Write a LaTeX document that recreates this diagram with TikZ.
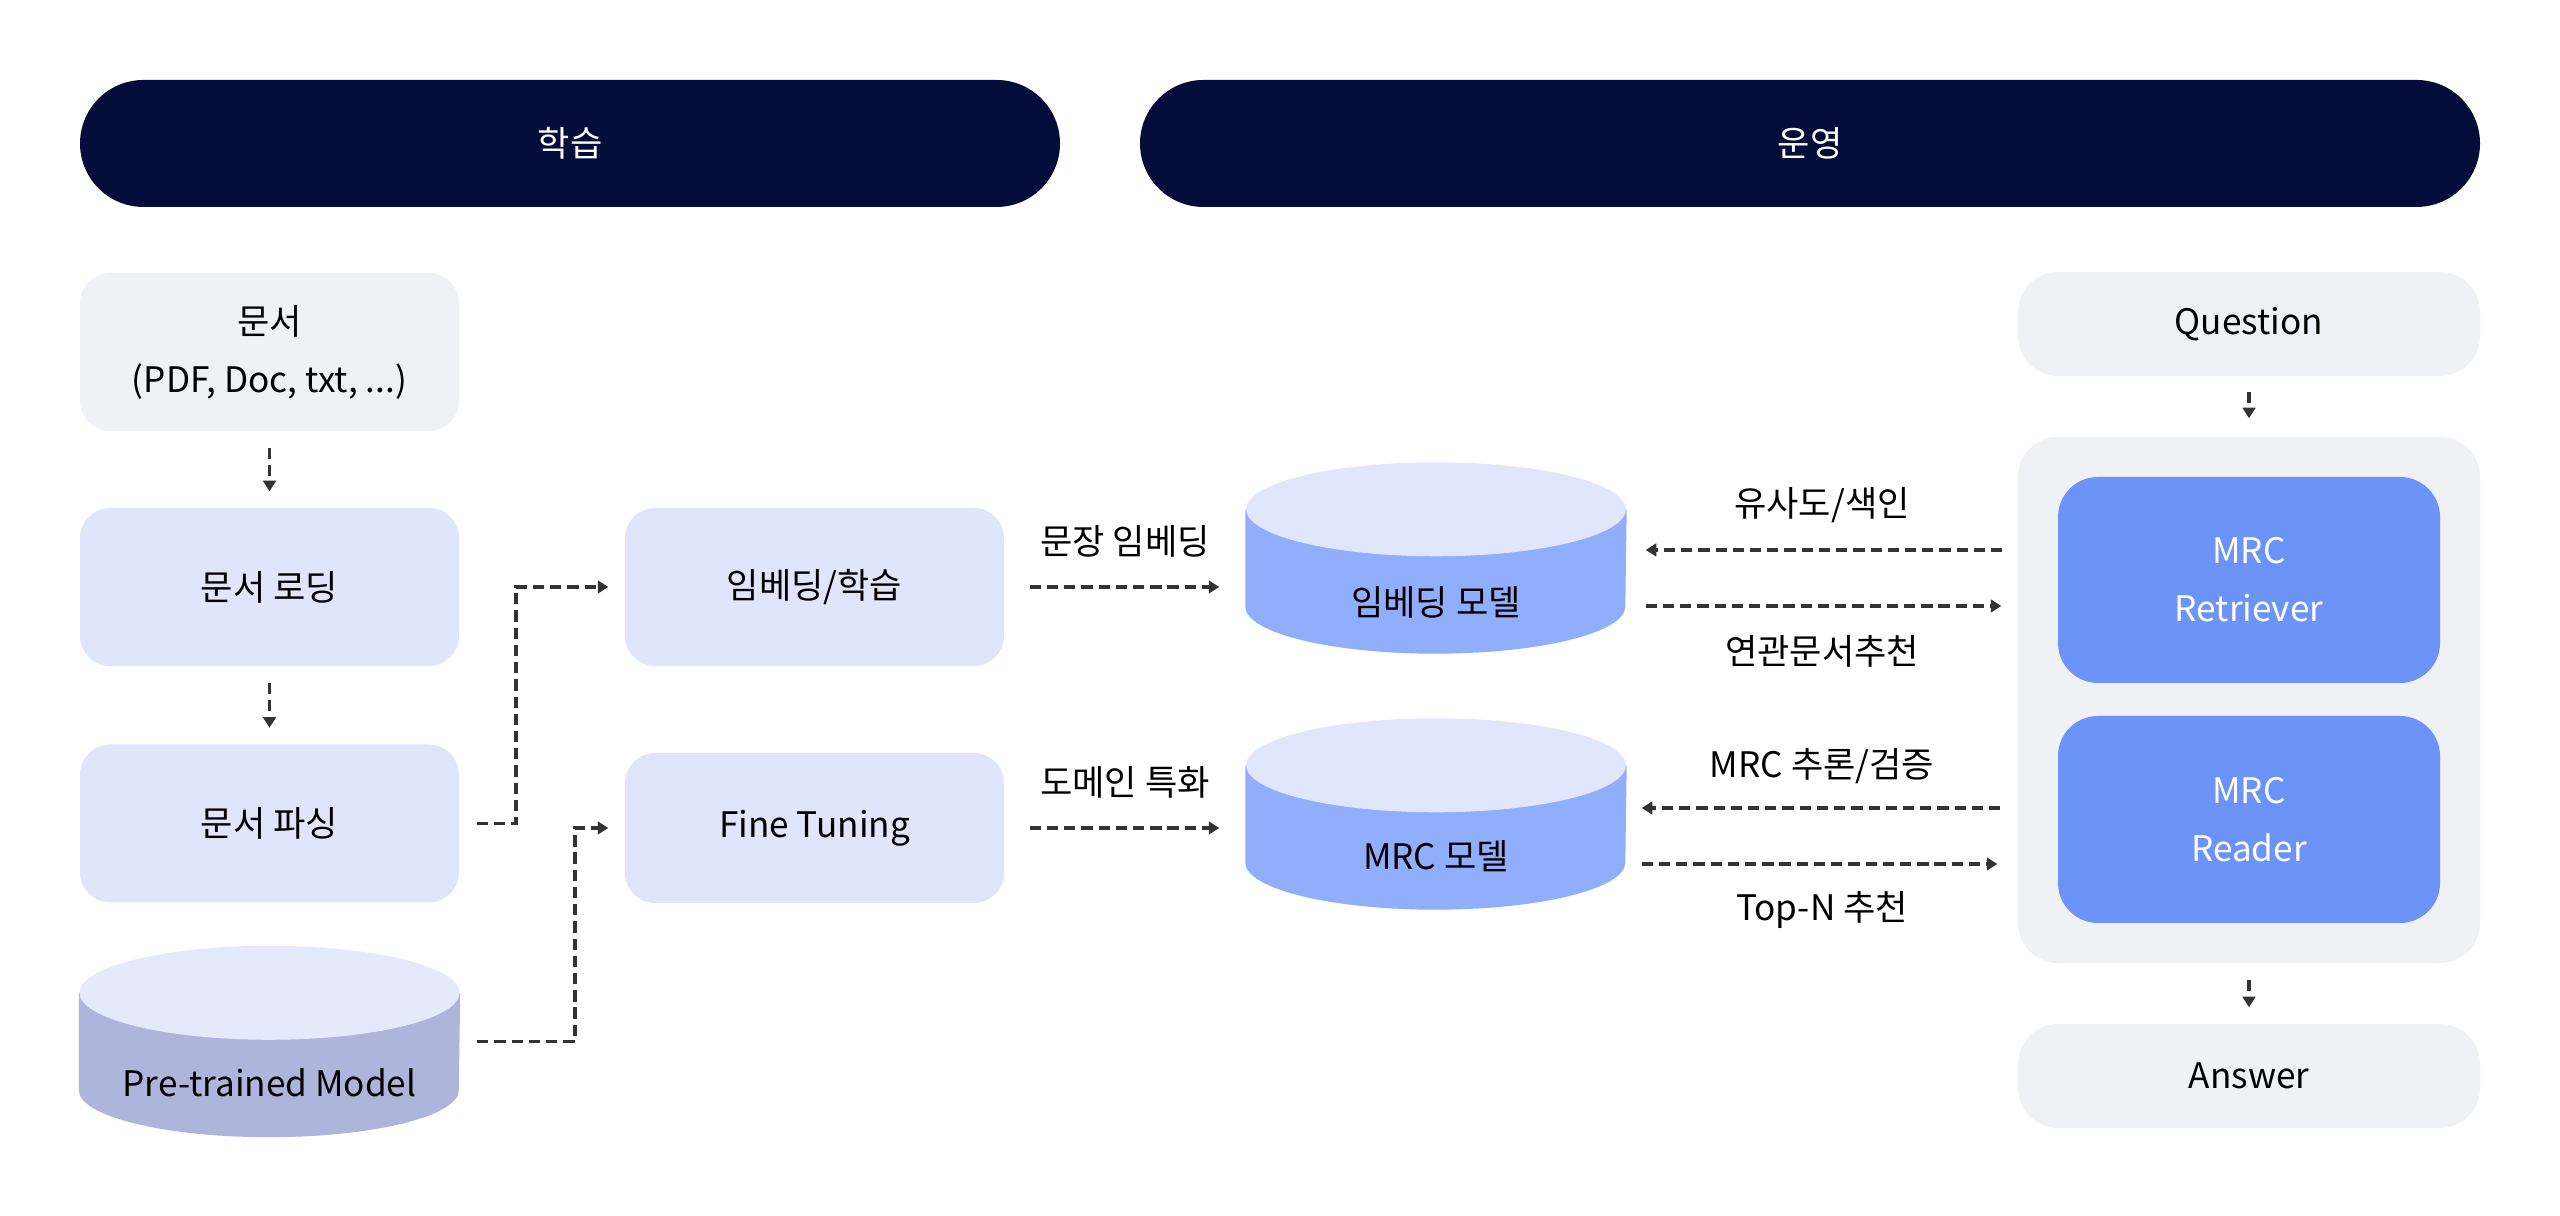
\documentclass[tikz,border=0pt]{standalone}
\usepackage{fontspec}
\setmainfont{Noto Sans CJK KR}
\usetikzlibrary{arrows.meta}

\definecolor{navy}{RGB}{4,13,58}
\definecolor{boxgray}{RGB}{240,241,245}
\definecolor{boxblue}{RGB}{223,230,252}
\definecolor{cyltop}{RGB}{224,231,253}
\definecolor{cylbody}{RGB}{145,174,252}
\definecolor{pretop}{RGB}{228,233,252}
\definecolor{prebody}{RGB}{173,181,218}
\definecolor{mrcblue}{RGB}{107,147,248}
\definecolor{arrowgray}{RGB}{51,51,51}

\begin{document}
\begin{tikzpicture}[
  font=\fontsize{10}{16.5}\selectfont,
  header/.style={fill=navy, text=white, rounded corners=6.35mm,
    minimum width=#1, minimum height=12.7mm, inner sep=0pt},
  stepbox/.style={fill=boxblue, rounded corners=3mm, align=center,
    minimum width=3.79cm, minimum height=1.58cm, inner sep=0pt},
  graybox/.style={stepbox, fill=boxgray},
  sidebox/.style={fill=boxgray, rounded corners=4mm, align=center,
    minimum width=4.62cm, minimum height=1.04cm, inner sep=0pt},
  mrcbox/.style={fill=mrcblue, text=white, rounded corners=4mm, align=center,
    minimum width=3.82cm, minimum height=2.06cm, inner sep=0pt},
  cylnode/.style={minimum width=3.8cm, minimum height=1.9cm, inner sep=0pt},
  flow/.style={draw=arrowgray, line width=0.9pt, dash pattern=on 3.2pt off 1.7pt,
    -{Triangle[length=3pt,width=3.6pt]}}
]
  \useasboundingbox (0,0) rectangle (25.6,12.16);

  % headers
  \node[header=9.8cm] (learn) at (5.70,10.725) {학습};
  \node[header=13.4cm] (ops) at (18.10,10.725) {운영};

  % training side
  \node[graybox] (doc) at (2.695,8.64) {문서\\(PDF, Doc, txt, ...)};
  \node[stepbox] (load) at (2.695,6.29) {문서 로딩};
  \node[stepbox] (parse) at (2.695,3.925) {문서 파싱};
  \node[cylnode] (pretrained) at (2.695,1.745) {};
  \node[stepbox] (embtrain) at (8.145,6.29) {임베딩/학습};
  \node[stepbox, minimum height=1.5cm] (finetune) at (8.145,3.88) {Fine Tuning};

  % models
  \node[cylnode] (embmodel) at (14.36,6.58) {};
  \node[cylnode] (mrcmodel) at (14.36,4.02) {};
  \foreach \cyl/\ctop/\cbody in {embmodel/cyltop/cylbody, mrcmodel/cyltop/cylbody,
      pretrained/pretop/prebody}{
    \fill[\cbody] ([yshift=-4.7mm]\cyl.north west) -- ([yshift=4.7mm]\cyl.south west)
      arc[start angle=180, end angle=360, x radius=19mm, y radius=4.7mm]
      -- ([yshift=-4.7mm]\cyl.north east) -- cycle;
    \fill[\ctop] ([yshift=-4.7mm]\cyl.north) ellipse[x radius=19mm, y radius=4.7mm];
  }
  \node (embmodeltxt) at ([yshift=-4.4mm]embmodel) {임베딩 모델};
  \node (mrcmodeltxt) at ([yshift=-4.2mm]mrcmodel) {MRC 모델};
  \node (pretrainedtxt) at ([yshift=-4.1mm]pretrained) {Pre-trained Model};

  % serving side
  \node[sidebox] (question) at (22.49,8.92) {Question};
  \node[sidebox, minimum height=5.26cm] (engine) at (22.49,5.16) {};
  \node[mrcbox] (retriever) at (22.49,6.36) {MRC\\Retriever};
  \node[mrcbox, minimum height=2.07cm] (reader) at (22.49,3.965) {MRC\\Reader};
  \node[sidebox] (answer) at (22.49,1.40) {Answer};

  % arrows
  \coordinate (bend1) at (5.16,6.29);
  \coordinate (bend2) at (5.75,3.88);
  \coordinate (up1) at (0,6.66);
  \coordinate (dn1) at (0,6.10);
  \coordinate (up2) at (0,4.08);
  \coordinate (dn2) at (0,3.52);

  \draw[flow, shorten <=1.6mm, shorten >=1.6mm] (doc) -- (load);
  \draw[flow, shorten <=1.6mm, shorten >=1.6mm] (load) -- (parse);
  \draw[flow, shorten <=1.7mm, shorten >=1.6mm] (parse.east) -| (bend1) -- (embtrain.west);
  \draw[flow, shorten <=1.7mm, shorten >=1.6mm] (pretrained.east) -| (bend2) -- (finetune.west);

  \draw[flow, shorten <=2.5mm, shorten >=2.6mm] (embtrain.east) -- (embtrain.east -| embmodel.west)
    node[midway, yshift=4.6mm]{문장 임베딩};
  \draw[flow, shorten <=2.5mm, shorten >=2.6mm] (finetune.east) -- (finetune.east -| mrcmodel.west)
    node[midway, yshift=4.6mm]{도메인 특화};

  \draw[flow, shorten <=1.5mm, shorten >=1.9mm] (engine.west |- up1) -- (embmodel.east |- up1)
    node[midway, yshift=4.5mm]{유사도/색인};
  \draw[flow, shorten <=1.9mm, shorten >=1.6mm] (embmodel.east |- dn1) -- (engine.west |- dn1)
    node[midway, yshift=-4.5mm]{연관문서추천};
  \draw[flow, shorten <=1.7mm, shorten >=1.5mm] (engine.west |- up2) -- (mrcmodel.east |- up2)
    node[midway, yshift=4.2mm]{MRC 추론/검증};
  \draw[flow, shorten <=1.5mm, shorten >=2mm] (mrcmodel.east |- dn2) -- (engine.west |- dn2)
    node[midway, yshift=-4.6mm]{Top-N 추천};

  \draw[flow, shorten <=1.5mm, shorten >=1.8mm] (question) -- (engine);
  \draw[flow, shorten <=1.6mm, shorten >=1.6mm] (engine) -- (answer);
\end{tikzpicture}
\end{document}
